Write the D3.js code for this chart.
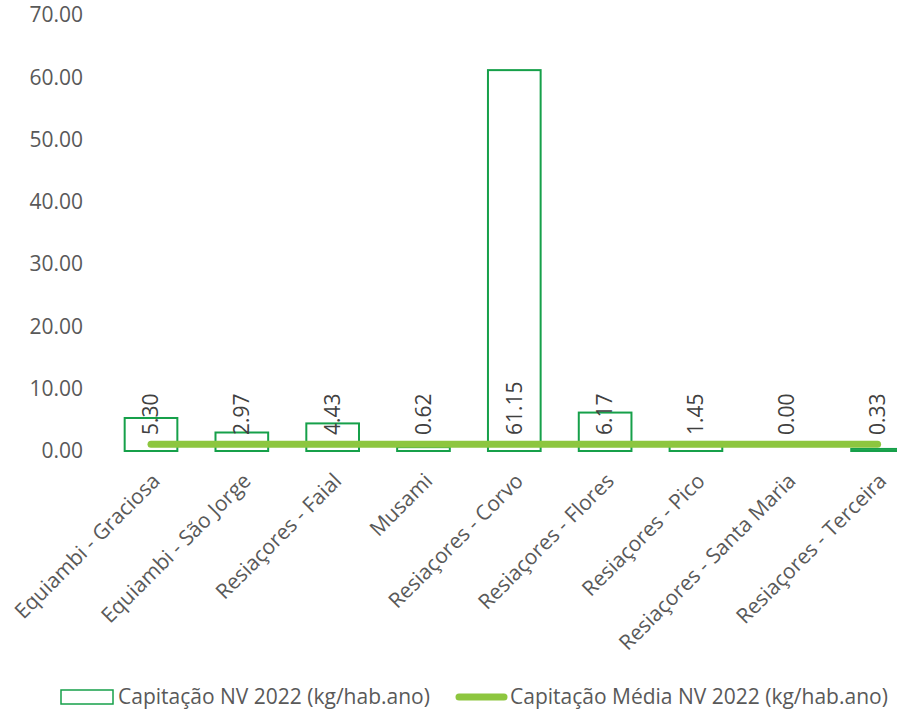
<!DOCTYPE html>
<html>
<head>
<meta charset="utf-8">
<script src="https://cdn.jsdelivr.net/npm/d3@7"></script>
<style>
  body { margin: 0; background: #fff; }
  svg { display: block; font-family: "Open Sans", sans-serif; }
</style>
</head>
<body>
<div class="chart"></div>
<script>
const categories = ["Equiambi - Graciosa", "Equiambi - São Jorge", "Resiaçores - Faial", "Musami",
    "Resiaçores - Corvo", "Resiaçores - Flores", "Resiaçores - Pico", "Resiaçores - Santa Maria",
    "Resiaçores - Terceira"];
const capitacao = [5.30, 2.97, 4.43, 0.62, 61.15, 6.17, 1.45, 0.00, 0.33];
const capitacaoMedia = [1.1, 1.1, 1.1, 1.1, 1.1, 1.1, 1.1, 1.1, 1.1];
const yTicks = [0, 10, 20, 30, 40, 50, 60, 70];
const legendLabels = ["Capitação NV 2022 (kg/hab.ano)", "Capitação Média NV 2022 (kg/hab.ano)"];

const width = 897, height = 713;
const textColor = "#595959";
const barColor = "#16A04A";
const lineColor = "#8DC63F";
const fontSize = "21px";

const svg = d3.select(".chart").append("svg")
        .attr("width", width)
        .attr("height", height);

const x = d3.scaleBand()
        .domain(categories)
        .range([105.6, 923])
        .paddingInner(0.42)
        .paddingOuter(0.21);

const y = d3.scaleLinear()
        .domain([0, 70])
        .range([451, 15]);

// y axis labels (no line, no ticks)
svg.selectAll(".ytick")
        .data(yTicks)
        .enter().append("text")
        .attr("x", 83)
        .attr("y", (d) => y(d))
        .attr("dy", "0.35em")
        .attr("text-anchor", "end")
        .attr("fill", textColor)
        .style("font-size", fontSize)
        .text((d) => d.toFixed(2));

// bars
svg.selectAll(".bar")
        .data(capitacao.map((v, i) => ({cat: categories[i], v: v})).filter((d) => d.v > 0))
        .enter().append("rect")
        .attr("x", (d) => x(d.cat))
        .attr("y", (d) => y(d.v))
        .attr("width", x.bandwidth())
        .attr("height", (d) => y(0) - y(d.v))
        .attr("fill", "none")
        .attr("stroke", barColor)
        .attr("stroke-width", 2);

// mean line
const line = d3.line()
        .x((d, i) => x(categories[i]) + x.bandwidth() / 2)
        .y((d) => y(d));
svg.append("path")
        .datum(capitacaoMedia)
        .attr("d", line)
        .attr("fill", "none")
        .attr("stroke", lineColor)
        .attr("stroke-width", 7)
        .attr("stroke-linecap", "round");

// data labels, rotated
svg.selectAll(".lbl")
        .data(capitacao)
        .enter().append("text")
        .attr("transform", (d, i) => "translate(" + (x(categories[i]) + x.bandwidth() / 2) + "," + (y(0) - 16) + ") rotate(-90)")
        .attr("dy", "0.35em")
        .attr("text-anchor", "start")
        .attr("fill", "#404040")
        .style("font-size", fontSize)
        .text((d) => d.toFixed(2));

// category labels
svg.selectAll(".xlbl")
        .data(categories)
        .enter().append("text")
        .attr("transform", (d) => "translate(" + (x(d) + x.bandwidth() / 2 + 5) + "," + 477 + ") rotate(-45)")
        .attr("text-anchor", "end")
        .attr("dy", "0.35em")
        .attr("fill", textColor)
        .style("font-size", fontSize)
        .text((d) => d);

// legend
const legY = 697;
svg.append("rect")
        .attr("x", 61).attr("y", legY - 7)
        .attr("width", 52).attr("height", 14)
        .attr("fill", "none")
        .attr("stroke", barColor)
        .attr("stroke-width", 1.5);
svg.append("text")
        .attr("x", 118).attr("y", legY)
        .attr("dy", "0.35em")
        .attr("fill", textColor)
        .style("font-size", fontSize)
        .text(legendLabels[0]);
svg.append("line")
        .attr("x1", 459).attr("x2", 504)
        .attr("y1", legY).attr("y2", legY)
        .attr("stroke", lineColor)
        .attr("stroke-width", 7)
        .attr("stroke-linecap", "round");
svg.append("text")
        .attr("x", 510).attr("y", legY)
        .attr("dy", "0.35em")
        .attr("fill", textColor)
        .style("font-size", fontSize)
        .text(legendLabels[1]);
</script>
</body>
</html>
